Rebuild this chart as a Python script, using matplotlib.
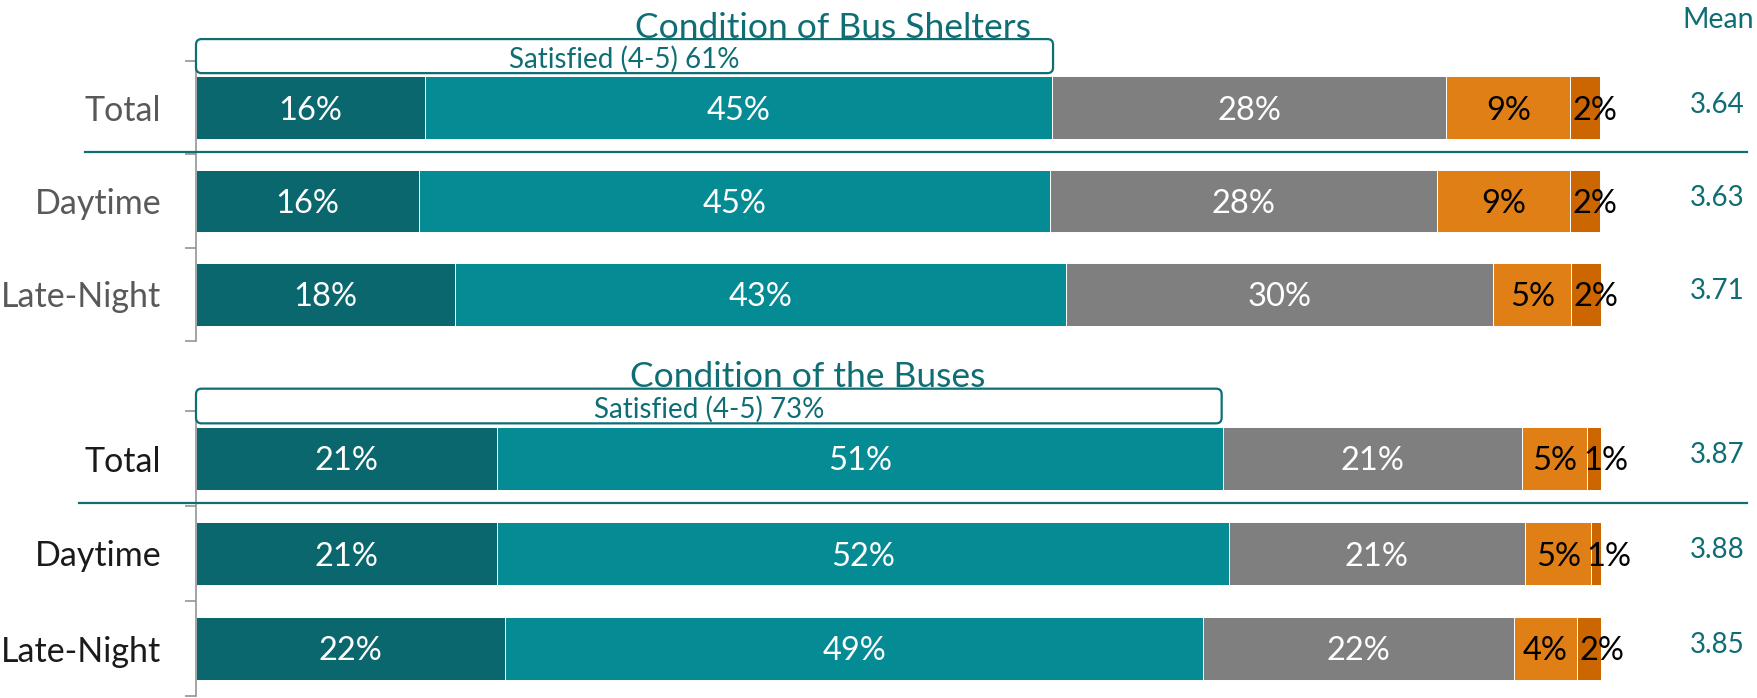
import numpy as np
import matplotlib
matplotlib.use("agg")
import matplotlib.pyplot as plt
from matplotlib.patches import FancyBboxPatch
from matplotlib.transforms import blended_transform_factory

plt.rcParams['font.family'] = ['Lato', 'DejaVu Sans']

# -- data --
categories = ["Total", "Daytime", "Late-Night"]

# Condition of Bus Shelters (segment widths, % of respondents)
shelter_very_sat  = [16.3, 15.9, 18.4]
shelter_sat       = [44.6, 44.9, 43.5]
shelter_neutral   = [28.1, 27.5, 30.4]
shelter_dissat    = [8.8, 9.5, 5.6]
shelter_very_dis  = [2.1, 2.1, 2.1]
shelter_labels = [[16, 16, 18], [45, 45, 43], [28, 28, 30], [9, 9, 5], [2, 2, 2]]
shelter_means  = [3.64, 3.63, 3.71]
shelter_satisfied = 61

# Condition of the Buses
bus_very_sat  = [21.4, 21.4, 22.0]
bus_sat       = [51.7, 52.1, 49.7]
bus_neutral   = [21.3, 21.1, 22.1]
bus_dissat    = [4.6, 4.7, 4.5]
bus_very_dis  = [1.3, 1.1, 2.1]
bus_labels = [[21, 21, 22], [51, 52, 49], [21, 21, 22], [5, 5, 4], [1, 1, 2]]
bus_means  = [3.87, 3.88, 3.85]
bus_satisfied = 73

SEG_COLORS = ["#0B676E", "#058B94", "#7F7F7F", "#E07F16", "#CC6600"]
SEG_TEXT   = ["white", "white", "white", "black", "black"]
TEAL = "#0E6E74"
SPINE = "#8C8C8C"

W, H = 1758, 698
fig = plt.figure(figsize=(W / 100, H / 100), dpi=100)


def px_rect(left, top, right, bottom):
    return [left / W, 1 - bottom / H, (right - left) / W, (bottom - top) / H]


ax1 = fig.add_axes(px_rect(196, 61, 1601, 341))
ax2 = fig.add_axes(px_rect(196, 411, 1601, 696))


def draw_panel(ax, segs, labels, means, satisfied, title, title_xy, label_color, sep_x0, sep_y):
    y = np.arange(len(categories))
    left = np.zeros(len(categories))
    for i, vals in enumerate(segs):
        vals = np.array(vals)
        ax.barh(y, vals, left=left, height=0.67, color=SEG_COLORS[i],
                edgecolor="white", linewidth=0.7, zorder=2)
        for j in range(len(y)):
            x = left[j] + vals[j] / 2 + (0.7 if i == len(segs) - 1 else 0)
            ax.text(x, y[j], f"{labels[i][j]}%", ha="center", va="center_baseline",
                    color=SEG_TEXT[i], fontsize=23.5, zorder=4)
        left += vals

    ax.set_xlim(0, 100)
    ax.set_ylim(2.5, -0.5)
    for s in ("top", "right", "bottom"):
        ax.spines[s].set_visible(False)
    ax.spines["left"].set_color(SPINE)
    ax.spines["left"].set_linewidth(1.1)
    ax.set_xticks([])
    ax.set_yticks(y)
    ax.set_yticklabels(categories, fontsize=24.5, color=label_color)
    ax.tick_params(axis="y", which="major", length=0, pad=25)
    ax.set_yticks([-0.5, 0.5, 1.5, 2.5], minor=True)
    ax.tick_params(axis="y", which="minor", length=8, width=1.1, color=SPINE)

    # rounded "Satisfied" box above the first bar
    bb = ax.get_window_extent()
    aspect = (bb.width / 100) / (bb.height / 3)
    box = FancyBboxPatch((0, -0.735), satisfied, 0.365,
                         boxstyle="round,pad=0,rounding_size=0.4",
                         mutation_aspect=aspect, fc="white", ec=TEAL, lw=1.6,
                         clip_on=False, zorder=5)
    ax.add_patch(box)
    ax.text(satisfied / 2, -0.545, f"Satisfied (4-5) {satisfied}%", ha="center",
            va="center_baseline", color=TEAL, fontsize=20, zorder=6)

    blend = blended_transform_factory(ax.transAxes, ax.transData)
    ax.plot([sep_x0, 1.104], [sep_y, sep_y], transform=blend, color=TEAL,
            lw=1.6, clip_on=False, zorder=3)
    for j, m in enumerate(means):
        ax.text(1.083, y[j] - 0.06, f"{m:.2f}", transform=blend, ha="center",
                va="center_baseline", color=TEAL, fontsize=20)

    fig.text(title_xy[0] / W, 1 - title_xy[1] / H, title, ha="center",
             va="center_baseline", color=TEAL, fontsize=25.5)


draw_panel(ax1,
           [shelter_very_sat, shelter_sat, shelter_neutral, shelter_dissat, shelter_very_dis],
           shelter_labels, shelter_means, shelter_satisfied,
           "Condition of Bus Shelters", (833, 25), "#595959", -0.079, 0.48)
draw_panel(ax2,
           [bus_very_sat, bus_sat, bus_neutral, bus_dissat, bus_very_dis],
           bus_labels, bus_means, bus_satisfied,
           "Condition of the Buses", (808, 374), "#1A1A1A", -0.083, 0.468)

fig.text(1718 / W, 1 - 18 / H, "Mean", ha="center", va="center_baseline",
         color=TEAL, fontsize=20.5)

fig.savefig("out.png", dpi=100)
